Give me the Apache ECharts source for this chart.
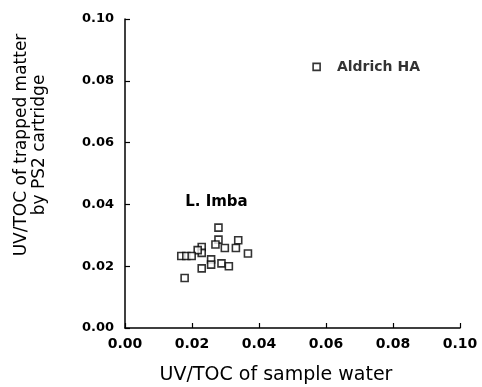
<!DOCTYPE html>
<html>
<head>
<meta charset="utf-8">
<script src="https://cdn.jsdelivr.net/npm/echarts@6/dist/echarts.min.js"></script>
<style>html,body{margin:0;padding:0;background:#fff}#c{width:482px;height:387px}</style>
</head>
<body>
<div id="c"></div>
<script>
var imbaX = [0.0279,0.0279,0.0270,0.0298,0.0338,0.0331,0.0367,0.0229,0.0229,0.0217,0.0168,0.0183,0.0199,0.0257,0.0257,0.0288,0.0310,0.0229,0.0178];
var imbaY = [0.0325,0.0286,0.0270,0.0259,0.0284,0.0259,0.0241,0.0262,0.0243,0.0252,0.0233,0.0233,0.0233,0.0222,0.0205,0.0209,0.0200,0.0193,0.0162];
var aldrichX = [0.0572];
var aldrichY = [0.0845];
var imbaLabel = "L. Imba";
var aldrichLabel = "Aldrich HA";
var imbaLabelPos = [0.0273, 0.0406];
var tickValues = [0, 0.02, 0.04, 0.06, 0.08, 0.10];

var FONT = "DejaVu Sans";
var chart = echarts.init(document.getElementById('c'), null, {renderer:'canvas'});
var axisCommon = {
  min: 0, max: 0.1, interval: 0.02,
  axisLine: {show: true, onZero: false, lineStyle: {color: '#000', width: 1.5}},
  axisTick: {show: true, inside: true, length: 5, lineStyle: {color: '#000', width: 1.2}},
  splitLine: {show: false},
  axisLabel: {color: '#000', fontFamily: FONT, fontSize: 13, fontWeight: 'bold',
    formatter: function(v){ return v.toFixed(2); }}
};
chart.setOption({
  animation: false,
  grid: {left: 125, right: 22, top: 19, bottom: 59},
  xAxis: Object.assign({type: 'value'}, axisCommon, {
    axisLabel: Object.assign({}, axisCommon.axisLabel, {margin: 9, fontSize: 14})
  }),
  yAxis: Object.assign({type: 'value'}, axisCommon, {
    axisLabel: Object.assign({}, axisCommon.axisLabel, {margin: 11})
  }),
  series: [
    {
      type: 'scatter', symbol: 'rect', symbolSize: 7,
      itemStyle: {color: '#fff', borderColor: '#000', borderWidth: 1.6},
      data: imbaX.map(function(x, i){ return [x, imbaY[i]]; }),
      markPoint: {
        symbol: 'rect', symbolSize: 0,
        label: {show: true, formatter: imbaLabel, color: '#000', fontFamily: FONT, fontSize: 15, fontWeight: 'bold', position: 'inside'},
        data: [{coord: imbaLabelPos, value: imbaLabel}]
      }
    },
    {
      type: 'scatter', symbol: 'rect', symbolSize: 7,
      itemStyle: {color: '#fff', borderColor: '#000', borderWidth: 1.6},
      label: {show: true, position: 'right', distance: 16, formatter: aldrichLabel,
        color: '#000', fontFamily: FONT, fontSize: 14, fontWeight: 'bold'},
      data: aldrichX.map(function(x, i){ return [x, aldrichY[i]]; })
    }
  ],
  graphic: [
    {type: 'text', x: 276, y: 375, style: {text: 'UV/TOC of sample water', font: '19px "DejaVu Sans"', fill: '#000', textAlign: 'center', textVerticalAlign: 'middle'}},
    {type: 'text', x: 31, y: 145, rotation: Math.PI/2, style: {text: 'UV/TOC of trapped matter\nby PS2 cartridge', font: '17px "DejaVu Sans"', fill: '#000', textAlign: 'center', textVerticalAlign: 'middle', lineHeight: 18}}
  ]
});
</script>
</body>
</html>
